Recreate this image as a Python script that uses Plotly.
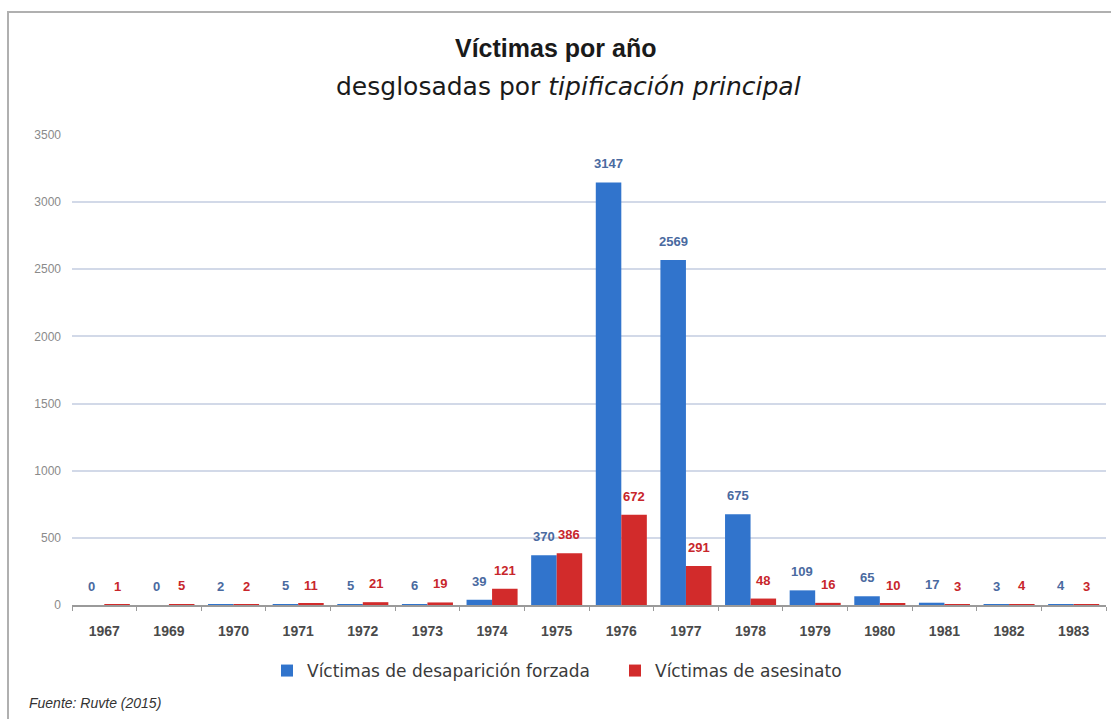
import plotly.graph_objects as go

# Victims per year, split by main classification
years = ["1967", "1969", "1970", "1971", "1972", "1973", "1974", "1975",
         "1976", "1977", "1978", "1979", "1980", "1981", "1982", "1983"]
desaparicion = [0, 0, 2, 5, 5, 6, 39, 370, 3147, 2569, 675, 109, 65, 17, 3, 4]
asesinato = [1, 5, 2, 11, 21, 19, 121, 386, 672, 291, 48, 16, 10, 3, 4, 3]
y_ticks = [0, 500, 1000, 1500, 2000, 2500, 3000, 3500]

W, H = 1111, 719
L, R, T, B = 72, 5, 135, 114
plot_w = W - L - R
plot_h = H - T - B
BARGAP = 0.21


def px_x(px):
    return (px - L) / plot_w


def px_y(py):
    return (H - B - py) / plot_h


BLUE = "#3174cc"
RED = "#d22b2b"
BLUE_TXT = "#4a6aa0"
RED_TXT = "#c8262b"

fig = go.Figure()
fig.add_trace(go.Bar(
    x=years, y=desaparicion, name="Víctimas de desaparición forzada",
    marker=dict(color=BLUE, line=dict(width=0)),
))
fig.add_trace(go.Bar(
    x=years, y=asesinato, name="Víctimas de asesinato",
    marker=dict(color=RED, line=dict(width=0)),
))

# Value labels above each bar, offset to the bar's slot within its group
# (category axis positions are addressed by index)
cat_px = plot_w / len(years)
half_bar = cat_px * (1 - BARGAP) / 4
for series, color, sign in ((desaparicion, BLUE_TXT, -1), (asesinato, RED_TXT, 1)):
    for i, v in enumerate(series):
        fig.add_annotation(
            x=i, y=v, xref="x", yref="y", text=f"<b>{v}</b>",
            showarrow=False, xshift=sign * half_bar, yshift=9,
            yanchor="bottom", xanchor="center",
            font=dict(family="Arial", size=13, color=color),
        )

fig.update_layout(
    width=W, height=H,
    margin=dict(l=L, r=R, t=T, b=B, autoexpand=False),
    paper_bgcolor="white", plot_bgcolor="white",
    barmode="group", bargap=BARGAP, bargroupgap=0.0,
    font=dict(family="Arial", color="#333"),
    showlegend=True,
    legend=dict(
        orientation="h", x=px_x(267), xanchor="left",
        y=px_y(671), yanchor="middle",
        font=dict(family="DejaVu Sans", size=17, color="#3a3a3a"),
        entrywidth=303, entrywidthmode="pixels",
        traceorder="normal",
        bgcolor="rgba(0,0,0,0)",
    ),
)

fig.update_xaxes(
    type="category", categoryorder="array", categoryarray=years,
    range=[-0.5, len(years) - 0.5], autorange=False,
    tickvals=years, ticktext=[f"<b>{y}</b>" for y in years],
    showline=True, linecolor="#9a9a9a", linewidth=1.5,
    ticks="outside", tickson="boundaries", ticklen=4, tickcolor="#9a9a9a",
    tickfont=dict(family="Arial", size=14, color="#4a4a4a"),
    ticklabelstandoff=12,
    showgrid=False,
)
fig.update_yaxes(
    range=[0, 3500], autorange=False,
    tickvals=y_ticks, ticktext=[str(v) for v in y_ticks],
    showgrid=True, gridcolor="#d2d9e8", gridwidth=1.5,
    zeroline=False, showline=False,
    tickfont=dict(family="Arial", size=12, color="#8a8a8a"),
    ticks="", ticklabelstandoff=10,
)

# Outer frame
fig.add_shape(type="rect", xref="paper", yref="paper",
              x0=px_x(8), x1=px_x(1116), y0=px_y(730), y1=px_y(12),
              line=dict(color="#b0b0b0", width=2), fillcolor="rgba(0,0,0,0)",
              layer="below")

# Titles
fig.add_annotation(xref="paper", yref="paper", x=px_x(555), y=px_y(48),
                   text="<b>Víctimas por año</b>", showarrow=False,
                   font=dict(family="Arial", size=25, color="#1a1a1a"),
                   xanchor="center", yanchor="middle")
fig.add_annotation(xref="paper", yref="paper", x=px_x(568), y=px_y(86),
                   text="desglosadas por <i>tipificación principal</i>",
                   showarrow=False,
                   font=dict(family="DejaVu Sans", size=25, color="#1a1a1a"),
                   xanchor="center", yanchor="middle")

# Source note
fig.add_annotation(xref="paper", yref="paper", x=px_x(27), y=px_y(703),
                   text="<i>Fuente: Ruvte (2015)</i>", showarrow=False,
                   font=dict(family="Arial", size=14, color="#333"),
                   xanchor="left", yanchor="middle")

fig.write_html("out.html")
